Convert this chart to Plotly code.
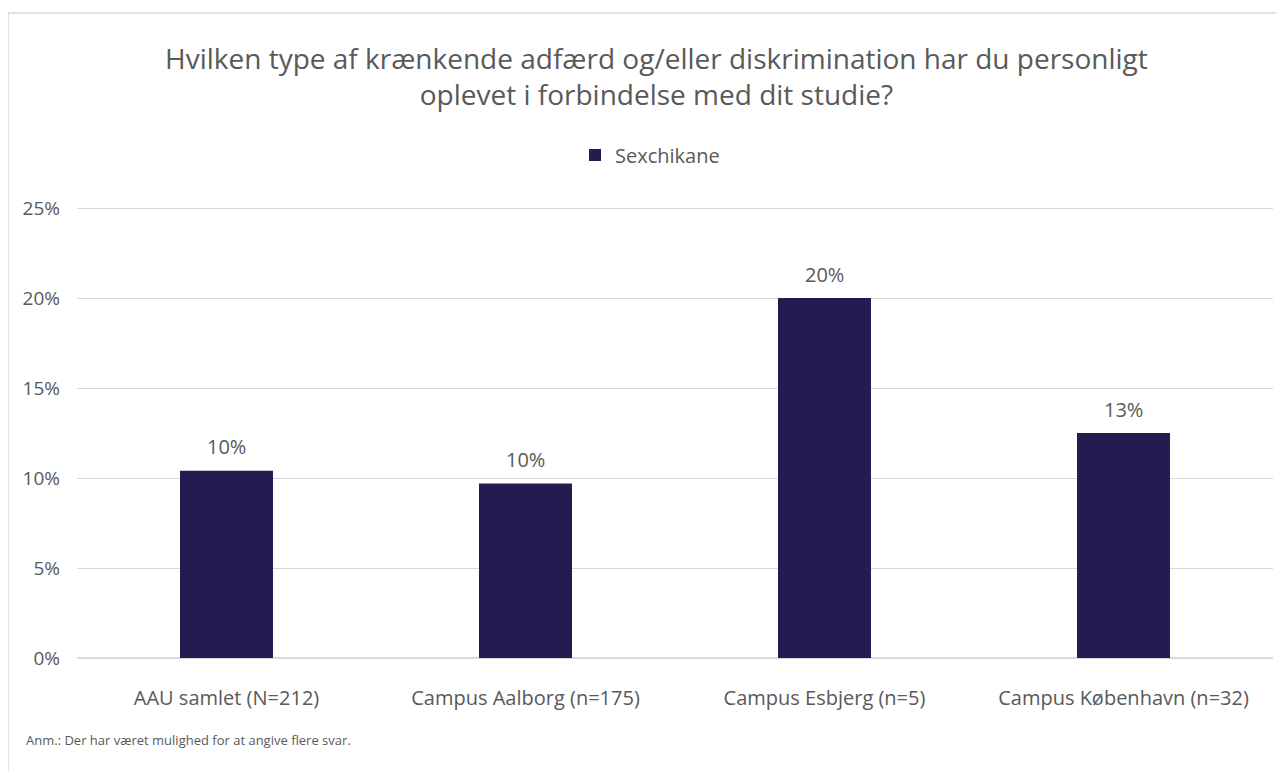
import math
import plotly.graph_objects as go

categories = ["AAU samlet (N=212)", "Campus Aalborg (n=175)", "Campus Esbjerg (n=5)", "Campus København (n=32)"]
sexchikane = [0.104, 0.097, 0.20, 0.125]
tick_vals = [0, 0.05, 0.10, 0.15, 0.20, 0.25]
tick_text = ["0%", "5%", "10%", "15%", "20%", "25%"]
title_text = "Hvilken type af krænkende adfærd og/eller diskrimination har du personligt<br>oplevet i forbindelse med dit studie?"
note_text = "Anm.: Der har været mulighed for at angive flere svar."

OFF = 8  # page body margin
W, H = 1284 - OFF, 771 - OFF
L, R, T, B = 77 - OFF, 11, 205 - OFF, 113
pw, ph = W - L - R, H - T - B
YMAX = 0.25 * ph / (ph - 3)  # 25% line sits 3px below top of plot area

def px_x(p):
    return (p - OFF - L) / pw

def px_y(p):
    return (H - B - (p - OFF)) / ph

FONT = "Open Sans"
GRAY = "#595959"
BAR = "#221C50"

fig = go.Figure()
fig.add_trace(go.Bar(
    x=categories, y=sexchikane, name="Sexchikane",
    marker=dict(color=BAR, line=dict(width=0)),
    width=0.311,
))

for c, v in zip(categories, sexchikane):
    fig.add_annotation(x=c, y=v, text=f"{math.floor(v * 100 + 0.5)}%", showarrow=False,
                       xanchor="center", yanchor="middle", yshift=24,
                       font=dict(family=FONT, size=20, color=GRAY))

fig.update_layout(
    width=W, height=H,
    margin=dict(l=L, r=R, t=T, b=B),
    paper_bgcolor="white", plot_bgcolor="white",
    font=dict(family=FONT, color=GRAY),
    showlegend=True,
    legend=dict(orientation="h", x=px_x(650), xanchor="center", y=px_y(155), yanchor="middle",
                font=dict(family=FONT, size=20, color=GRAY), itemwidth=30),
    xaxis=dict(showline=False, ticks="", tickfont=dict(family=FONT, size=20, color=GRAY),
               ticklabelstandoff=26),
    yaxis=dict(range=[0, YMAX], tickvals=tick_vals, ticktext=tick_text,
               showgrid=True, gridcolor="#D9D9D9", gridwidth=1, zeroline=True, zerolinecolor="#D9D9D9",
               tickfont=dict(family=FONT, size=19, color=GRAY), ticklabelstandoff=16),
    bargap=0.689,
)

fig.add_annotation(text=title_text, xref="paper", yref="paper", x=px_x(656), y=px_y(76),
                   xanchor="center", yanchor="middle", showarrow=False,
                   font=dict(family=FONT, size=28, color=GRAY), align="center")
fig.add_annotation(text=note_text, xref="paper", yref="paper", x=px_x(24), y=px_y(740),
                   xanchor="left", yanchor="middle", showarrow=False,
                   font=dict(family=FONT, size=13, color=GRAY))
fig.add_shape(type="rect", xref="paper", yref="paper",
              x0=px_x(8), x1=px_x(1320), y0=px_y(13), y1=px_y(820),
              line=dict(color="#D9D9D9", width=1.5), layer="below")

fig.write_html("out.html")
